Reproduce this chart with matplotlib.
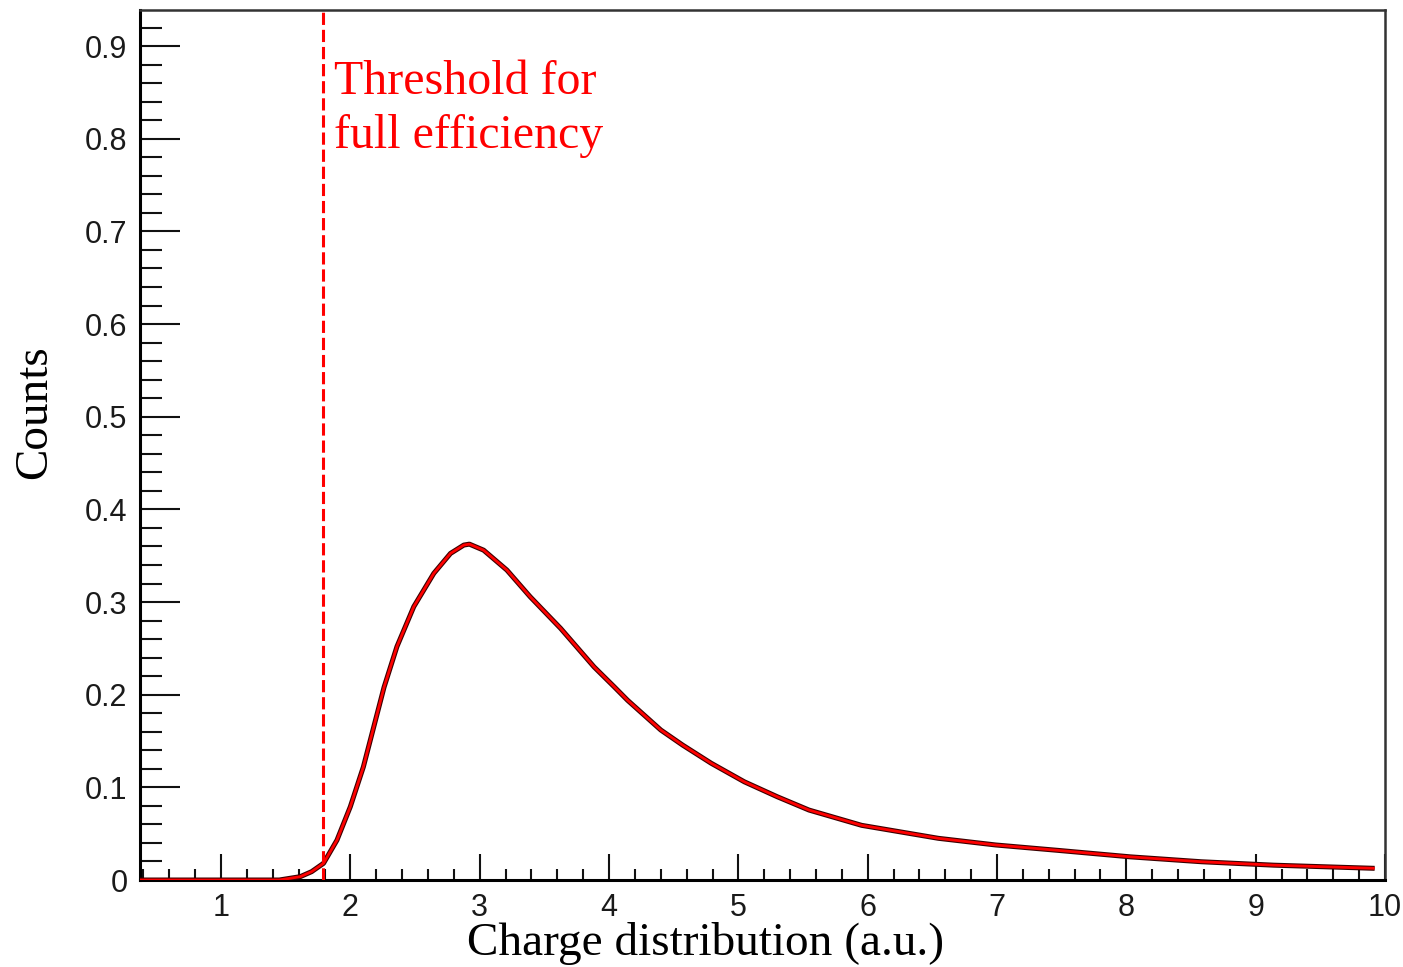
import matplotlib
matplotlib.use("Agg")
import matplotlib.pyplot as plt
from matplotlib.ticker import MultipleLocator

# Data (fit curve of the charge distribution)
charge = [0.37, 1.45, 1.612, 1.70, 1.792, 1.896, 1.999, 2.10, 2.18, 2.26, 2.36, 2.49,
          2.645, 2.774, 2.877, 2.92, 3.03, 3.21, 3.39, 3.626, 3.884, 4.04, 4.143, 4.40, 4.568,
          4.79, 5.046, 5.30, 5.546, 5.953, 6.546, 6.99, 7.47, 8.03, 8.58, 9.14, 9.92]
counts = [0.0, 0.0, 0.0036, 0.009, 0.018, 0.043, 0.079, 0.122, 0.165, 0.208, 0.252, 0.295,
          0.331, 0.3525, 0.3615, 0.3625, 0.356, 0.3345, 0.3057, 0.2715, 0.230, 0.2085, 0.194, 0.1619, 0.1457,
          0.126, 0.106, 0.0899, 0.0755, 0.059, 0.045, 0.0378, 0.032, 0.025, 0.0197, 0.016, 0.0126]
threshold = 1.79
x_ticks = [1, 2, 3, 4, 5, 6, 7, 8, 9, 10]
y_ticks = [0, 0.1, 0.2, 0.3, 0.4, 0.5, 0.6, 0.7, 0.8, 0.9]
y_tick_labels = ["0", "0.1", "0.2", "0.3", "0.4", "0.5", "0.6", "0.7", "0.8", "0.9"]
annotation = "Threshold for\nfull efficiency"

fig = plt.figure(figsize=(14.03, 9.67), dpi=100)
ax = fig.add_axes([140 / 1403, 87 / 967, (1385 - 140) / 1403, (880 - 10) / 967])

ax.set_xlim(0.373, 10.0)
ax.set_ylim(0, 0.939)

# curve: dark histogram underneath + red fit on top
ax.plot(charge, counts, color="#3a0000", lw=3.6, solid_capstyle="butt",
        solid_joinstyle="round", zorder=3)
ax.plot(charge, counts, color="#ff0000", lw=2.0, solid_capstyle="butt",
        solid_joinstyle="round", zorder=4)

# threshold line
ax.axvline(threshold, color="#ff0000", lw=2.2, dashes=(4, 1.6), zorder=5)
ax.text(1.872, 0.885, annotation, color="#ff0000", fontsize=34.5,
        family="Liberation Serif", va="top", ha="left", linespacing=1.3)

# ticks
ax.set_xticks(x_ticks)
ax.set_xticklabels([str(v) for v in x_ticks])
ax.set_yticks(y_ticks)
ax.set_yticklabels(y_tick_labels)
ax.xaxis.set_minor_locator(MultipleLocator(0.2))
ax.yaxis.set_minor_locator(MultipleLocator(0.02))
ax.tick_params(axis="both", which="both", direction="in", top=False, right=False,
               colors="#111111", width=1.5)
ax.tick_params(axis="x", which="major", length=19, pad=9)
ax.tick_params(axis="x", which="minor", length=8)
ax.tick_params(axis="y", which="major", length=29, pad=9)
ax.tick_params(axis="y", which="minor", length=16)
for lab in ax.get_xticklabels() + ax.get_yticklabels():
    lab.set_fontfamily("Liberation Sans")
    lab.set_fontsize(22)
    lab.set_color("#1a1a1a")

for side in ["left", "bottom"]:
    ax.spines[side].set_linewidth(2.2)
    ax.spines[side].set_color("#000000")
for side in ["top", "right"]:
    ax.spines[side].set_linewidth(1.8)
    ax.spines[side].set_color("#333333")

fig.text(706 / 1403, 2 / 967, "Charge distribution (a.u.)", fontsize=34,
         family="Liberation Serif", ha="center", va="bottom")
fig.text(35 / 1403, 1 - 412 / 967, "Counts", fontsize=34, rotation=90,
         family="Liberation Serif", ha="center", va="center")

fig.savefig("out.png", dpi=100)
